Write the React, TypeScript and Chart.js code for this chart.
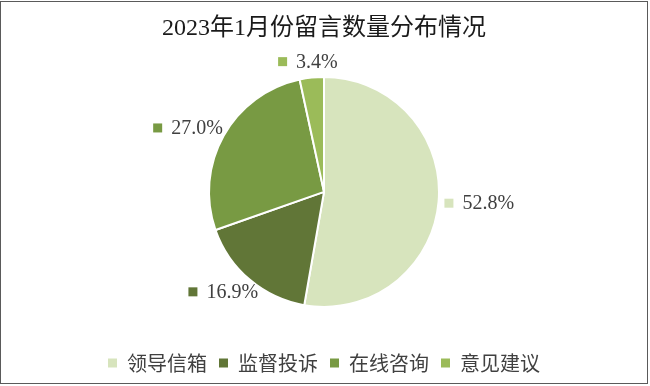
import React, { useEffect, useRef } from 'react';
import { Chart, registerables } from 'chart.js';

Chart.register(...registerables);

const TITLE = '2023年1月份留言数量分布情况';
const categories = ['领导信箱', '监督投诉', '在线咨询', '意见建议'];
const shares = [52.8, 16.9, 27.0, 3.4];
const colors = ['#D7E4BD', '#617637', '#789A43', '#9BBB59'];

const outerLabels = {
  id: 'outerLabels',
  afterDatasetsDraw(chart: any) {
    const ctx = chart.ctx;
    const meta = chart.getDatasetMeta(0);
    const data = chart.data.datasets[0].data;
    ctx.save();
    ctx.font = '20px "Liberation Serif", serif';
    ctx.textBaseline = 'middle';
    ctx.textAlign = 'left';
    meta.data.forEach((arc: any, i: number) => {
      const p = arc.getProps(['x', 'y', 'startAngle', 'endAngle', 'outerRadius'], true);
      const mid = (p.startAngle + p.endAngle) / 2;
      const text = Number(data[i]).toFixed(1) + '%';
      const tw = ctx.measureText(text).width;
      const bw = 18 + tw;
      const bh = 20;
      const r = p.outerRadius + 6;
      const ax = p.x + Math.cos(mid) * r;
      const ay = p.y + Math.sin(mid) * r;
      const cx = ax + Math.cos(mid) * bw / 2;
      const cy = ay + Math.sin(mid) * bh / 2;
      const left = cx - bw / 2;
      ctx.fillStyle = colors[i];
      ctx.fillRect(left, cy - 4.5, 9, 9);
      ctx.fillStyle = '#404040';
      ctx.fillText(text, left + 18, cy + 1);
    });
    ctx.restore();
  },
};

export default function App() {
  const ref = useRef<HTMLCanvasElement>(null);

  useEffect(() => {
    document.body.style.margin = '0';
    const canvas = ref.current;
    if (!canvas) return;
    const chart = new Chart(canvas, {
      type: 'pie',
      data: {
        labels: categories,
        datasets: [
          {
            data: shares,
            backgroundColor: colors,
            borderColor: '#ffffff',
            borderWidth: 2,
            radius: 115,
          } as any,
        ],
      },
      options: {
        responsive: false,
        animation: false,
        layout: { padding: { left: 0, right: 2, top: 0, bottom: 3 } },
        plugins: {
          title: {
            display: true,
            text: TITLE,
            color: '#1a1a1a',
            font: { size: 24, family: '"Liberation Serif", "Noto Sans CJK SC", serif', weight: 'normal' },
            padding: { top: 14, bottom: 0 },
          },
          legend: {
            display: true,
            position: 'bottom',
            labels: {
              boxWidth: 9,
              boxHeight: 9,
              padding: 12,
              color: '#404040',
              font: { size: 20, family: '"Noto Sans CJK SC", sans-serif' },
              generateLabels: (chart: any) => {
                const items = (Chart as any).overrides.pie.plugins.legend.labels.generateLabels(chart);
                return items.map((it: any) => ({ ...it, lineWidth: 0, strokeStyle: it.fillStyle }));
              },
            },
          },
          tooltip: { enabled: false },
        },
      },
      plugins: [outerLabels],
    });
    return () => chart.destroy();
  }, []);

  return (
    <div style={{ position: 'relative', width: 650, height: 386, background: '#fff' }}>
      <canvas ref={ref} width={650} height={386} style={{ display: 'block' }} />
      <div
        style={{
          position: 'absolute',
          left: 0,
          top: 1,
          width: 648,
          height: 383,
          border: '1px solid #5a5a5a',
          boxSizing: 'border-box',
          pointerEvents: 'none',
        }}
      />
    </div>
  );
}
